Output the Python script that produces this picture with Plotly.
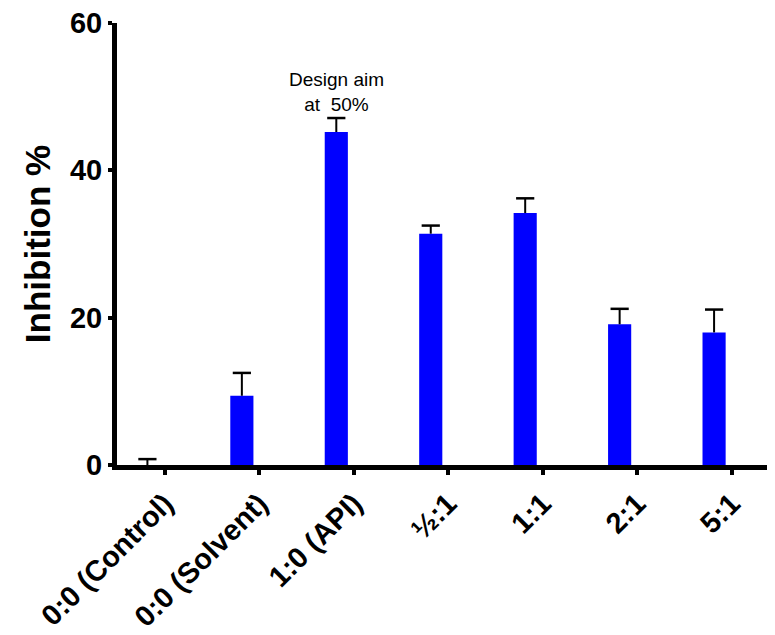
import plotly.graph_objects as go

categories = ["0:0 (Control)", "0:0 (Solvent)", "1:0 (API)", "½:1", "1:1", "2:1", "5:1"]
inhibition = [0.0, 9.4, 45.2, 31.4, 34.2, 19.1, 18.0]
sem = [0.8, 3.1, 1.9, 1.1, 2.0, 2.1, 3.1]
y_ticks = [0, 20, 40, 60]

positions = list(range(len(categories)))
bar_offset = -0.185
bar_x = [p + bar_offset for p in positions]
err_top = [v + e for v, e in zip(inhibition, sem)]

FONT = "Arial, Liberation Sans, sans-serif"

fig = go.Figure()
fig.add_trace(go.Bar(
    x=bar_x, y=inhibition, width=0.245,
    marker=dict(color="#0000FF", line=dict(width=0)),
    error_y=dict(type="data", symmetric=False, array=sem,
                 arrayminus=[0] * len(sem), color="black",
                 thickness=2, width=0),
    showlegend=False,
))
# error-bar caps (top only)
fig.add_trace(go.Scatter(
    x=bar_x, y=err_top, mode="markers",
    marker=dict(symbol="line-ew-open", size=13, color="black",
                line=dict(width=2.5, color="black")),
    showlegend=False, hoverinfo="skip",
))

fig.add_annotation(
    x=2 + bar_offset, y=50.7, xref="x", yref="y",
    text="Design aim<br>at  50%", showarrow=False,
    font=dict(family=FONT, size=19, color="black"),
    align="center",
)

fig.update_layout(
    width=767, height=627,
    margin=dict(l=109, r=0, t=15, b=170),
    plot_bgcolor="white", paper_bgcolor="white",
    font=dict(family=FONT, color="black"),
)
fig.update_xaxes(
    range=[-0.507, 6.46], tickmode="array", tickvals=positions,
    ticktext=[f"<b>{c}</b>" for c in categories], tickangle=-45,
    tickfont=dict(family=FONT, size=29, color="black"),
    showline=True, linecolor="black", linewidth=5,
    ticks="outside", ticklen=5, tickwidth=4, tickcolor="black",
    showgrid=False, zeroline=False, automargin=False,
    ticklabeloverflow="allow",
)
fig.update_yaxes(
    range=[0, 60], tickmode="array", tickvals=y_ticks,
    ticktext=[f"<b>{t}</b>" for t in y_ticks],
    tickfont=dict(family=FONT, size=29, color="black"),
    title=dict(text="<b>Inhibition %</b>", font=dict(family=FONT, size=35, color="black"), standoff=10),
    showline=True, linecolor="black", linewidth=5,
    ticks="outside", ticklen=4, tickwidth=4, tickcolor="black",
    showgrid=False, zeroline=False, automargin=False,
    ticklabeloverflow="allow",
)

fig.write_html("out.html")
